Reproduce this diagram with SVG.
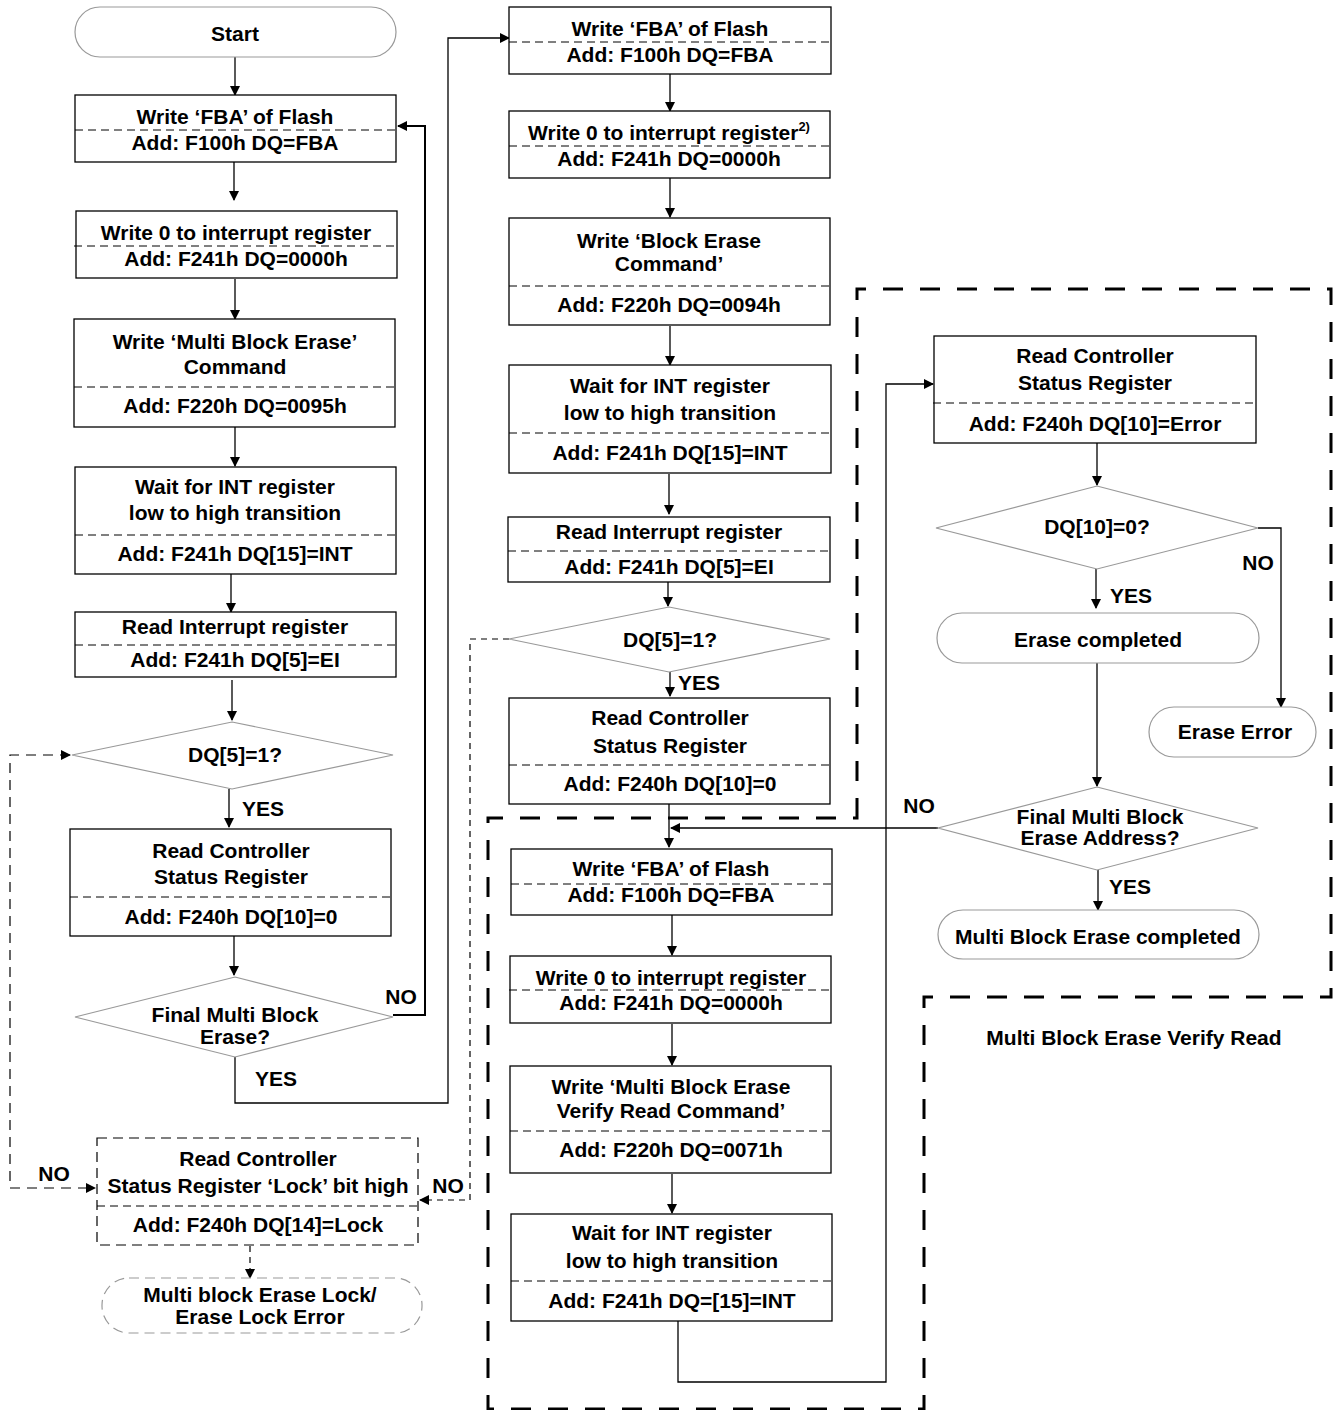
<svg xmlns="http://www.w3.org/2000/svg" width="1334" height="1410" viewBox="0 0 1334 1410">
<defs>
<marker id="ah" markerWidth="10" markerHeight="10" refX="9" refY="5" orient="auto-start-reverse" markerUnits="userSpaceOnUse">
<path d="M0,0 L10,5 L0,10 Z" fill="#000"/>
</marker>
<style>
.t{font-family:"Liberation Sans",Arial,sans-serif;font-weight:bold;font-size:21px;fill:#000;text-anchor:middle}
.l{font-family:"Liberation Sans",Arial,sans-serif;font-weight:bold;font-size:21px;fill:#000}
.box{fill:#fff;stroke:#000;stroke-width:1.3}
.dbox{fill:#fff;stroke:#000;stroke-width:1.2;stroke-dasharray:10 6}
.div{stroke:#000;stroke-width:1;stroke-dasharray:8 5;fill:none}
.term{fill:#fff;stroke:#999;stroke-width:1.2}
.dterm{fill:#fff;stroke:#999;stroke-width:1.2;stroke-dasharray:10 6}
.dia{fill:#fff;stroke:#999;stroke-width:1.2}
.c{fill:none;stroke:#000;stroke-width:1.3}
.ct{fill:none;stroke:#000;stroke-width:2}
.cd{fill:none;stroke:#000;stroke-width:1.2;stroke-dasharray:10 7}
.cd2{fill:none;stroke:#000;stroke-width:1.2;stroke-dasharray:6 5}
.region{fill:none;stroke:#000;stroke-width:3;stroke-dasharray:20 17}
</style>
</defs>
<rect width="1334" height="1410" fill="#fff"/>

<g id="region-verify">
<path class="region" d="M857,818 L857,289 L1331,289 L1331,997 L924,997 L924,1409 L488,1409 L488,818 Z"/>
<text class="t" x="1134" y="1045">Multi Block Erase Verify Read</text>
</g>

<g id="connectors">
<path class="c" d="M235,57 V95" marker-end="url(#ah)"/>
<path class="c" d="M234,162 V200" marker-end="url(#ah)"/>
<path class="c" d="M235,279 V319" marker-end="url(#ah)"/>
<path class="c" d="M235,427 V466" marker-end="url(#ah)"/>
<path class="c" d="M231,574 V612" marker-end="url(#ah)"/>
<path class="c" d="M232,680 V720" marker-end="url(#ah)"/>
<path class="c" d="M229,789 V827" marker-end="url(#ah)"/>
<path class="c" d="M234,936 V975" marker-end="url(#ah)"/>
<path class="ct" d="M393,1015 H425 V126 H398" marker-end="url(#ah)"/>
<path class="c" d="M235,1057 V1103 H448 V38 H509" marker-end="url(#ah)"/>
<path class="cd" d="M70,755 H10 V1188 H95" marker-start="url(#ah)" marker-end="url(#ah)"/>
<path class="cd2" d="M509,639 H470 V1200 H420" marker-end="url(#ah)"/>
<path class="cd2" d="M250,1246 V1278" marker-end="url(#ah)"/>

<path class="c" d="M670,74 V111" marker-end="url(#ah)"/>
<path class="c" d="M670,178 V217" marker-end="url(#ah)"/>
<path class="c" d="M670,326 V365" marker-end="url(#ah)"/>
<path class="c" d="M669,474 V514" marker-end="url(#ah)"/>
<path class="c" d="M668,582 V606" marker-end="url(#ah)"/>
<path class="c" d="M670,672 V696" marker-end="url(#ah)"/>
<path class="c" d="M669,804 V847" marker-end="url(#ah)"/>
<path class="c" d="M938,828 H671" marker-end="url(#ah)"/>
<path class="c" d="M672,915 V955" marker-end="url(#ah)"/>
<path class="c" d="M672,1024 V1065" marker-end="url(#ah)"/>
<path class="c" d="M672,1174 V1213" marker-end="url(#ah)"/>
<path class="c" d="M678,1321 V1382 H886 V384 H933" marker-end="url(#ah)"/>

<path class="c" d="M1097,443 V485" marker-end="url(#ah)"/>
<path class="c" d="M1096,569 V608" marker-end="url(#ah)"/>
<path class="c" d="M1258,528 H1281 V707" marker-end="url(#ah)"/>
<path class="c" d="M1097,663 V786" marker-end="url(#ah)"/>
<path class="c" d="M1098,870 V910" marker-end="url(#ah)"/>

<text class="l" x="242" y="816">YES</text>
<text class="t" x="401" y="1004">NO</text>
<text class="t" x="276" y="1086">YES</text>
<text class="t" x="54" y="1181">NO</text>
<text class="t" x="448" y="1193">NO</text>
<text class="l" x="678" y="690">YES</text>
<text class="t" x="919" y="813">NO</text>
<text class="l" x="1110" y="603">YES</text>
<text class="t" x="1258" y="570">NO</text>
<text class="l" x="1109" y="894">YES</text>
</g>

<g id="start">
<rect class="term" x="75" y="7" width="321" height="50" rx="25"/>
<text class="t" x="235" y="41">Start</text>
</g>

<g id="l1">
<rect class="box" x="75" y="95" width="321" height="67"/>
<line class="div" x1="75" y1="130" x2="396" y2="130"/>
<text class="t" x="235" y="124">Write ‘FBA’ of Flash</text>
<text class="t" x="235" y="150">Add: F100h DQ=FBA</text>
</g>

<g id="l2">
<rect class="box" x="76" y="211" width="321" height="67"/>
<line class="div" x1="74" y1="246" x2="397" y2="246"/>
<text class="t" x="236" y="240">Write 0 to interrupt register</text>
<text class="t" x="236" y="266">Add: F241h DQ=0000h</text>
</g>

<g id="l3">
<rect class="box" x="74" y="319" width="321" height="108"/>
<line class="div" x1="74" y1="387" x2="396" y2="387"/>
<text class="t" x="235" y="349">Write ‘Multi Block Erase’</text>
<text class="t" x="235" y="374">Command</text>
<text class="t" x="235" y="413">Add: F220h DQ=0095h</text>
</g>

<g id="l4">
<rect class="box" x="75" y="467" width="321" height="107"/>
<line class="div" x1="75" y1="535" x2="396" y2="535"/>
<text class="t" x="235" y="494">Wait for INT register</text>
<text class="t" x="235" y="520">low to high transition</text>
<text class="t" x="235" y="561">Add: F241h DQ[15]=INT</text>
</g>

<g id="l5">
<rect class="box" x="75" y="612" width="321" height="65"/>
<line class="div" x1="75" y1="645" x2="396" y2="645"/>
<text class="t" x="235" y="634">Read Interrupt register</text>
<text class="t" x="235" y="667">Add: F241h DQ[5]=EI</text>
</g>

<g id="d1">
<polygon class="dia" points="232,722 393,755 232,789 72,755"/>
<text class="t" x="235" y="762">DQ[5]=1?</text>
</g>

<g id="l6">
<rect class="box" x="70" y="829" width="321" height="107"/>
<line class="div" x1="70" y1="897" x2="391" y2="897"/>
<text class="t" x="231" y="858">Read Controller</text>
<text class="t" x="231" y="884">Status Register</text>
<text class="t" x="231" y="924">Add: F240h DQ[10]=0</text>
</g>

<g id="d2">
<polygon class="dia" points="235,977 393,1017 235,1057 75,1017"/>
<text class="t" x="235" y="1022">Final Multi Block</text>
<text class="t" x="235" y="1044">Erase?</text>
</g>

<g id="lock">
<rect class="dbox" x="97" y="1138" width="321" height="107"/>
<line class="div" x1="97" y1="1206" x2="418" y2="1206"/>
<text class="t" x="258" y="1166">Read Controller</text>
<text class="t" x="258" y="1193">Status Register ‘Lock’ bit high</text>
<text class="t" x="258" y="1232">Add: F240h DQ[14]=Lock</text>
</g>

<g id="lockerr">
<rect class="dterm" x="102" y="1278" width="320" height="55" rx="27"/>
<text class="t" x="260" y="1302">Multi block Erase Lock/</text>
<text class="t" x="260" y="1324">Erase Lock Error</text>
</g>

<g id="m1">
<rect class="box" x="509" y="7" width="322" height="67"/>
<line class="div" x1="509" y1="42" x2="831" y2="42"/>
<text class="t" x="670" y="36">Write ‘FBA’ of Flash</text>
<text class="t" x="670" y="62">Add: F100h DQ=FBA</text>
</g>

<g id="m2">
<rect class="box" x="509" y="111" width="321" height="67"/>
<line class="div" x1="509" y1="146" x2="830" y2="146"/>
<text class="t" x="669" y="140">Write 0 to interrupt register<tspan font-size="13" dy="-9">2)</tspan></text>
<text class="t" x="669" y="166">Add: F241h DQ=0000h</text>
</g>

<g id="m3">
<rect class="box" x="509" y="218" width="321" height="107"/>
<line class="div" x1="509" y1="286" x2="830" y2="286"/>
<text class="t" x="669" y="248">Write ‘Block Erase</text>
<text class="t" x="669" y="271">Command’</text>
<text class="t" x="669" y="312">Add: F220h DQ=0094h</text>
</g>

<g id="m4">
<rect class="box" x="509" y="365" width="322" height="108"/>
<line class="div" x1="509" y1="433" x2="831" y2="433"/>
<text class="t" x="670" y="393">Wait for INT register</text>
<text class="t" x="670" y="420">low to high transition</text>
<text class="t" x="670" y="460">Add: F241h DQ[15]=INT</text>
</g>

<g id="m5">
<rect class="box" x="508" y="517" width="322" height="65"/>
<line class="div" x1="508" y1="551" x2="830" y2="551"/>
<text class="t" x="669" y="539">Read Interrupt register</text>
<text class="t" x="669" y="574">Add: F241h DQ[5]=EI</text>
</g>

<g id="dm">
<polygon class="dia" points="669,607 830,639 669,672 509,639"/>
<text class="t" x="670" y="647">DQ[5]=1?</text>
</g>

<g id="m6">
<rect class="box" x="509" y="698" width="321" height="106"/>
<line class="div" x1="509" y1="765" x2="830" y2="765"/>
<text class="t" x="670" y="725">Read Controller</text>
<text class="t" x="670" y="753">Status Register</text>
<text class="t" x="670" y="791">Add: F240h DQ[10]=0</text>
</g>

<g id="m7">
<rect class="box" x="511" y="849" width="321" height="66"/>
<line class="div" x1="511" y1="884" x2="832" y2="884"/>
<text class="t" x="671" y="876">Write ‘FBA’ of Flash</text>
<text class="t" x="671" y="902">Add: F100h DQ=FBA</text>
</g>

<g id="m8">
<rect class="box" x="510" y="956" width="321" height="67"/>
<line class="div" x1="509" y1="990" x2="831" y2="990"/>
<text class="t" x="671" y="985">Write 0 to interrupt register</text>
<text class="t" x="671" y="1010">Add: F241h DQ=0000h</text>
</g>

<g id="m9">
<rect class="box" x="510" y="1066" width="321" height="107"/>
<line class="div" x1="510" y1="1131" x2="832" y2="1131"/>
<text class="t" x="671" y="1094">Write ‘Multi Block Erase</text>
<text class="t" x="671" y="1118">Verify Read Command’</text>
<text class="t" x="671" y="1157">Add: F220h DQ=0071h</text>
</g>

<g id="m10">
<rect class="box" x="511" y="1214" width="321" height="107"/>
<line class="div" x1="511" y1="1281" x2="832" y2="1281"/>
<text class="t" x="672" y="1240">Wait for INT register</text>
<text class="t" x="672" y="1268">low to high transition</text>
<text class="t" x="672" y="1308">Add: F241h DQ=[15]=INT</text>
</g>

<g id="r1">
<rect class="box" x="934" y="336" width="322" height="107"/>
<line class="div" x1="933" y1="403" x2="1256" y2="403"/>
<text class="t" x="1095" y="363">Read Controller</text>
<text class="t" x="1095" y="390">Status Register</text>
<text class="t" x="1095" y="431">Add: F240h DQ[10]=Error</text>
</g>

<g id="dr1">
<polygon class="dia" points="1097,486 1258,528 1097,569 936,528"/>
<text class="t" x="1097" y="534">DQ[10]=0?</text>
</g>

<g id="erasecompleted">
<rect class="term" x="937" y="613" width="322" height="50" rx="25"/>
<text class="t" x="1098" y="647">Erase completed</text>
</g>

<g id="eraseerror">
<rect class="term" x="1149" y="707" width="167" height="50" rx="25"/>
<text class="t" x="1235" y="739">Erase Error</text>
</g>

<g id="dr2">
<polygon class="dia" points="1097,787 1258,828 1097,870 938,828"/>
<text class="t" x="1100" y="824">Final Multi Block</text>
<text class="t" x="1100" y="845">Erase Address?</text>
</g>

<g id="mbecompleted">
<rect class="term" x="938" y="910" width="321" height="49" rx="25"/>
<text class="t" x="1098" y="944">Multi Block Erase completed</text>
</g>
</svg>
